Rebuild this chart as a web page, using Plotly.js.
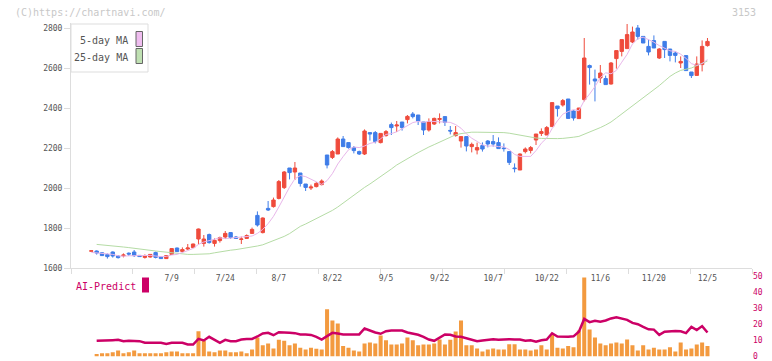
<!DOCTYPE html>
<html><head><meta charset="utf-8">
<script src="https://cdn.plot.ly/plotly-3.0.1.min.js"></script>
<style>html,body{margin:0;padding:0;background:#fff;}#chart{width:772px;height:361px;}</style>
</head><body><div id="chart"></div>
<script>
const openP = [1684,1685,1676,1667,1680,1660,1661,1674,1680,1663,
1653,1655,1677,1657,1647,1668,1700,1683,1695,1702,
1745,1723,1767,1723,1737,1755,1777,1755,1743,1748,
1773,1863,1777,1898,1907,1948,2002,2100,2080,2075,
2020,2000,2007,2017,2165,2153,2170,2245,2227,2202,
2182,2170,2277,2277,2227,2262,2317,2310,2330,2342,
2370,2365,2330,2290,2320,2343,2357,2288,2262,2235,
2257,2207,2190,2212,2235,2232,2227,2200,2182,2100,
2090,2182,2188,2240,2273,2265,2307,2410,2415,2445,
2385,2347,2442,2612,2545,2550,2547,2520,2647,2683,
2697,2730,2800,2758,2708,2737,2650,2733,2695,2675,
2625,2662,2580,2563,2617,2712];
const highP = [1686,1688,1678,1673,1683,1665,1673,1678,1690,1665,
1668,1670,1682,1660,1662,1700,1702,1703,1720,1722,
1797,1765,1772,1748,1757,1785,1780,1760,1757,1768,
1802,1883,1853,1935,1952,2040,2085,2100,2130,2075,
2020,2017,2030,2043,2165,2190,2253,2260,2227,2210,
2187,2293,2277,2285,2273,2290,2327,2335,2330,2365,
2380,2365,2330,2348,2352,2373,2357,2310,2310,2257,
2257,2227,2227,2228,2240,2265,2253,2223,2182,2123,
2173,2203,2210,2270,2298,2310,2427,2410,2445,2445,
2388,2400,2750,2617,2592,2615,2562,2630,2687,2742,
2820,2807,2815,2758,2742,2763,2700,2733,2695,2683,
2658,2662,2580,2658,2738,2750];
const lowP = [1683,1667,1660,1647,1652,1647,1653,1660,1655,1655,
1647,1652,1648,1645,1645,1665,1680,1678,1690,1700,
1718,1707,1722,1707,1727,1745,1745,1745,1720,1745,
1770,1807,1773,1885,1902,1943,1995,2043,2040,2007,
1985,1990,2003,2013,2098,2145,2170,2207,2197,2173,
2165,2165,2237,2223,2223,2257,2265,2280,2287,2323,
2348,2315,2265,2282,2315,2323,2310,2268,2257,2202,
2183,2178,2168,2182,2203,2207,2197,2182,2115,2078,
2090,2173,2173,2215,2260,2265,2307,2357,2407,2348,
2337,2347,2433,2517,2433,2525,2517,2517,2597,2658,
2697,2725,2742,2725,2663,2700,2645,2650,2633,2628,
2600,2587,2550,2563,2583,2707];
const closeP = [1686,1675,1662,1657,1660,1652,1665,1670,1662,1657,
1660,1668,1653,1647,1662,1697,1682,1692,1700,1720,
1795,1745,1727,1738,1752,1773,1753,1748,1745,1762,
1793,1815,1850,1890,1940,2032,2080,2077,2100,2023,
2003,2005,2023,2035,2115,2182,2245,2207,2202,2187,
2170,2285,2270,2232,2273,2282,2302,2315,2302,2358,
2357,2335,2290,2330,2348,2347,2328,2285,2277,2257,
2210,2218,2202,2195,2220,2220,2197,2197,2128,2097,
2170,2195,2202,2270,2282,2302,2427,2397,2437,2348,
2350,2400,2650,2602,2535,2575,2517,2625,2687,2742,
2767,2780,2758,2725,2680,2700,2695,2692,2663,2663,
2633,2587,2562,2620,2708,2733];
const ma5 = [1678,1676,1673,1670,1668,1661,1659,1661,1662,1661,
1663,1663,1660,1657,1658,1665,1668,1676,1687,1698,
1718,1730,1737,1745,1751,1747,1749,1753,1754,1756,
1760,1773,1793,1822,1858,1905,1958,2004,2046,2062,
2057,2042,2031,2018,2037,2072,2120,2157,2191,2205,
2202,2210,2223,2229,2246,2268,2272,2281,2295,2312,
2327,2333,2328,2334,2332,2330,2329,2328,2317,2299,
2271,2249,2233,2216,2209,2211,2207,2206,2192,2168,
2158,2157,2158,2187,2224,2250,2297,2336,2369,2382,
2392,2386,2437,2470,2507,2552,2576,2571,2588,2629,
2668,2720,2747,2754,2742,2729,2712,2698,2686,2683,
2669,2648,2622,2613,2622,2642];
const ma25 = [null,1718,1716,1714,1711,1708,1705,1702,1698,1694,
1690,1688,1685,1682,1679,1675,1672,1670,1668,1668,
1668,1668,1671,1676,1681,1685,1689,1692,1696,1700,
1705,1710,1716,1727,1735,1745,1758,1772,1790,1808,
1820,1833,1847,1862,1875,1888,1905,1925,1945,1965,
1985,2003,2020,2038,2055,2075,2095,2115,2132,2147,
2162,2177,2192,2205,2217,2230,2243,2256,2266,2272,
2277,2279,2279,2279,2279,2278,2278,2277,2274,2269,
2262,2258,2254,2250,2248,2247,2247,2247,2248,2250,
2254,2258,2268,2280,2290,2302,2315,2330,2350,2370,
2390,2410,2428,2448,2468,2490,2512,2535,2558,2575,
2588,2594,2600,2612,2625,2635];
const volume = [null,1.5,2.1,2.1,2.7,3.75,2.1,2.7,3.75,2.1,
2.1,2.1,2.1,2.1,2.7,3.1,3.1,2.1,2.1,2.1,
15.8,9.8,3.1,2.7,3.75,3.75,2.7,2.7,3.1,2.1,
4.4,11.9,7.1,8.1,5.0,10.4,9.8,7.1,8.1,5.4,
4.4,5.4,4.8,4.4,29.6,22.5,20.6,6.5,5.4,3.75,
3.1,8.1,8.75,8.1,13.1,10.2,7.5,7.5,8.1,11.9,
10.2,7.1,7.5,7.5,8.1,10.6,7.5,10.4,15.6,22.5,
7.1,7.1,5.0,3.1,4.4,5.0,4.4,4.4,7.7,7.7,
4.4,4.4,3.75,4.4,7.1,4.4,13.5,5.4,5.0,6.5,
5.8,16.25,49.4,16.9,11.9,8.1,7.1,8.1,8.75,8.1,
10.6,7.1,3.75,7.1,4.4,5.4,4.4,4.4,5.8,3.1,
8.75,4.4,5.0,7.5,8.75,6.5];
const aiPredict = [null,9.8,9.8,9.8,10.2,10.4,9.5,9.8,9.8,9.6,
8.6,8.6,8.6,8.6,7.9,8.6,8.6,8.6,7.5,7.5,
11.0,10.0,12.3,10.6,8.5,10.4,9.6,9.6,10.6,11.0,
11.0,12.5,14.4,14.8,13.3,15.2,14.8,14.8,14.6,13.8,
13.8,13.5,12.3,10.6,12.7,14.8,14.4,13.8,13.8,13.8,
13.8,17.5,16.2,15.0,14.2,15.8,16.2,16.2,16.2,15.0,
14.4,13.6,12.3,10.6,9.8,12.0,13.8,13.6,12.5,12.3,
11.3,10.2,9.5,10.0,10.4,10.8,10.4,10.8,10.8,10.6,
10.6,9.8,10.2,9.2,10.2,10.6,14.5,12.5,12.3,12.3,
12.6,15.5,23.5,21.5,22.3,21.7,22.5,23.8,24.5,23.6,
22.9,21.0,20.2,18.5,17.0,16.8,13.5,15.5,15.8,16.0,
15.8,14.6,18.5,16.5,19.0,15.0];
const tickPos = [16,26,36,46,56,66,76,86,96,106,116];
const tickLabels = ['7/9','7/24','8/7','8/22','9/5','9/22','10/7','10/22','11/6','11/20','12/5'];
const priceTicks = [1600,1800,2000,2200,2400,2600,2800];
const volTicks = [0,10,20,30,40,50];

const xIdx = closeP.map((_, i) => i + 1);
const FONT = 'DejaVu Sans Mono, monospace';
const RED = '#ef4b3c', BLUE = '#3f7de8';

const traces = [
  {type:'scatter', mode:'lines', x:xIdx, y:ma25, xaxis:'x', yaxis:'y',
   line:{color:'#b5dca5', width:1}, hoverinfo:'skip'},
  {type:'scatter', mode:'lines', x:xIdx, y:ma5, xaxis:'x', yaxis:'y',
   line:{color:'#e8b6ea', width:1}, hoverinfo:'skip'},
  {type:'candlestick', x:xIdx, open:openP, high:highP, low:lowP, close:closeP,
   xaxis:'x', yaxis:'y', whiskerwidth:0,
   increasing:{line:{color:RED, width:1}, fillcolor:RED},
   decreasing:{line:{color:BLUE, width:1}, fillcolor:BLUE}, hoverinfo:'skip'},
  {type:'bar', x:xIdx, y:volume, xaxis:'x2', yaxis:'y2',
   marker:{color:'#f39a3f', line:{width:0}}, hoverinfo:'skip'},
  {type:'scatter', mode:'lines', x:xIdx, y:aiPredict, xaxis:'x2', yaxis:'y2',
   line:{color:'#cc0066', width:2.5}, hoverinfo:'skip'}
];

function px2x(px){ return (px - 71) / 681; }
function px2y(py){ return (361 - py) / 361; }

const layout = {
  width:772, height:361,
  margin:{l:71, r:20, t:0, b:0, pad:0},
  paper_bgcolor:'#fff', plot_bgcolor:'#fff',
  showlegend:false, hovermode:false,
  boxgap:0.1, bargap:0.25,
  font:{family:FONT, size:8, color:'#555'},
  xaxis:{domain:[0,1], anchor:'y', range:[-2.79,124.31], rangeslider:{visible:false},
    showgrid:false, zeroline:false, showline:true, linecolor:'#ddd', linewidth:1,
    tickmode:'array', tickvals:tickPos, ticktext:tickLabels, ticks:'',
    ticklabelstandoff:2,
    tickfont:{family:FONT, size:8, color:'#555'},
    minor:{tickmode:'linear', tick0:-2.79, dtick:11.555, ticks:'outside', ticklen:5,
      tickcolor:'#ddd', tickwidth:1, showgrid:false}},
  yaxis:{domain:[px2y(268), px2y(23)], anchor:'x', range:[1600,2825],
    tickmode:'array', tickvals:priceTicks, ticks:'outside', ticklen:6, tickcolor:'#ddd',
    showline:true, linecolor:'#ddd', linewidth:1, showgrid:false, zeroline:false,
    tickfont:{family:FONT, size:8, color:'#555'}},
  xaxis2:{domain:[0,1], anchor:'y2', matches:'x', showticklabels:false, showline:false,
    showgrid:false, zeroline:false, ticks:''},
  yaxis2:{domain:[px2y(356.5), px2y(276.5)], anchor:'x2', side:'right', range:[0,50],
    tickmode:'array', tickvals:volTicks, ticks:'', showline:false, showgrid:false, zeroline:false,
    ticklabeloverflow:'allow',
    tickfont:{family:FONT, size:8, color:'#cc0066'}},
  shapes:[
    {type:'rect', xref:'paper', yref:'paper', x0:px2x(71), x1:px2x(148), y0:px2y(72), y1:px2y(24),
     line:{color:'#ddd', width:1}, fillcolor:'#fff', layer:'above'},
    {type:'rect', xref:'paper', yref:'paper', x0:px2x(136), x1:px2x(142.5), y0:px2y(46.5), y1:px2y(31.5),
     line:{color:'#666', width:1}, fillcolor:'#efbdef', layer:'above'},
    {type:'rect', xref:'paper', yref:'paper', x0:px2x(136), x1:px2x(142.5), y0:px2y(63.5), y1:px2y(48.5),
     line:{color:'#666', width:1}, fillcolor:'#bfe0b2', layer:'above'},
    {type:'rect', xref:'paper', yref:'paper', x0:px2x(142), x1:px2x(149), y0:px2y(292.5), y1:px2y(277.5),
     line:{width:0}, fillcolor:'#cc0066', layer:'above'}
  ],
  annotations:[
    {xref:'paper', yref:'paper', x:px2x(130), y:px2y(40), xanchor:'right', yanchor:'middle',
     text:'5-day MA', showarrow:false, font:{family:FONT, size:10, color:'#555'}},
    {xref:'paper', yref:'paper', x:px2x(130), y:px2y(57), xanchor:'right', yanchor:'middle',
     text:'25-day MA', showarrow:false, font:{family:FONT, size:10, color:'#555'}},
    {xref:'paper', yref:'paper', x:px2x(74), y:px2y(286), xanchor:'left', yanchor:'middle',
     text:'AI-Predict', showarrow:false, font:{family:FONT, size:10, color:'#cc0066'}},
    {xref:'paper', yref:'paper', x:px2x(13), y:px2y(12), xanchor:'left', yanchor:'middle',
     text:'(C)https://chartnavi.com/', showarrow:false, font:{family:FONT, size:10, color:'#c8c8c8'}},
    {xref:'paper', yref:'paper', x:px2x(758), y:px2y(12.5), xanchor:'right', yanchor:'middle',
     text:'3153', showarrow:false, font:{family:FONT, size:10, color:'#c8c8c8'}}
  ]
};

Plotly.newPlot('chart', traces, layout, {staticPlot:true, displayModeBar:false});
</script>
</body></html>
